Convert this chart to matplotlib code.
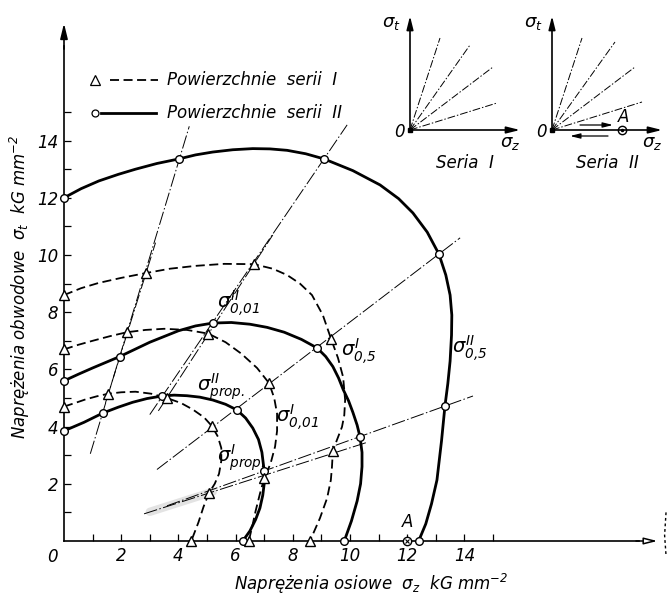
import numpy as np
import matplotlib.pyplot as plt

plt.rcParams['font.family'] = ['Liberation Sans Narrow', 'DejaVu Sans']
plt.rcParams['font.style'] = 'italic'
plt.rcParams['mathtext.fontset'] = 'dejavusans'

# --- yield surfaces, sigma_z / sigma_t in kG/mm^2 ---
# series II (solid)
prop2_z = [0, 0.35, 0.7, 1.35, 1.9, 2.4, 2.9, 3.43, 3.85, 4.3, 4.75, 5.2, 5.65, 6.05,
           6.35, 6.6, 6.8, 6.92, 7.0, 7.0, 6.95, 6.85, 6.7, 6.5, 6.25]
prop2_t = [3.85, 4.0, 4.15, 4.47, 4.68, 4.85, 4.98, 5.07, 5.1, 5.08, 5.03, 4.93, 4.78, 4.58,
           4.3, 3.95, 3.55, 3.1, 2.45, 2.0, 1.6, 1.15, 0.75, 0.35, 0]
p001_2_z = [0, 0.5, 1.0, 1.95, 3.0, 4.0, 4.6, 5.2, 5.85, 6.5, 7.1, 7.7, 8.3, 8.85, 9.15,
            9.4, 9.6, 9.76, 9.95, 10.1, 10.25, 10.35, 10.42, 10.42, 10.37, 10.25, 10.05, 9.8]
p001_2_t = [5.6, 5.83, 6.05, 6.45, 6.95, 7.35, 7.52, 7.62, 7.64, 7.58, 7.47, 7.3, 7.05, 6.75, 6.45,
            6.1, 5.7, 5.3, 4.9, 4.5, 4.05, 3.64, 3.1, 2.6, 2.0, 1.4, 0.7, 0]
p05_2_z = [0, 0.6, 1.22, 1.9, 2.5, 3.25, 4.02, 4.6, 5.2, 5.9, 6.6, 7.2, 7.8, 8.45, 9.09,
           10.1, 11.05, 11.7, 12.2, 12.7, 13.11, 13.35, 13.5, 13.56, 13.55, 13.5, 13.42,
           13.32, 13.2, 13.04, 12.85, 12.65, 12.4]
p05_2_t = [12.0, 12.32, 12.59, 12.82, 13.0, 13.2, 13.36, 13.5, 13.6, 13.68, 13.72, 13.71, 13.66,
           13.54, 13.36, 12.95, 12.45, 11.97, 11.47, 10.8, 10.03, 9.3, 8.6, 7.9, 7.2, 6.29, 5.5,
           4.72, 3.5, 2.13, 1.3, 0.6, 0]
# series I (dashed)
prop1_z = [0, 0.4, 0.75, 1.15, 1.55, 2.0, 2.5, 3.05, 3.6, 4.1, 4.5, 4.9, 5.17, 5.38, 5.5,
           5.5, 5.42, 5.27, 5.07, 4.88, 4.7, 4.45]
prop1_t = [4.7, 4.83, 4.95, 5.06, 5.15, 5.2, 5.22, 5.15, 5.0, 4.82, 4.6, 4.32, 4.02, 3.65, 3.25,
           2.8, 2.35, 2.0, 1.68, 1.2, 0.65, 0]
p001_1_z = [0, 0.5, 1.0, 1.6, 2.2, 2.85, 3.5, 4.3, 5.05, 5.65, 6.2, 6.75, 7.17, 7.35, 7.45,
            7.45, 7.38, 7.22, 7.0, 6.85, 6.7, 6.58, 6.46]
p001_1_t = [6.7, 6.86, 7.0, 7.16, 7.3, 7.38, 7.42, 7.38, 7.25, 6.95, 6.55, 6.05, 5.52, 5.0, 4.45,
            3.85, 3.3, 2.7, 2.2, 1.65, 1.05, 0.5, 0]
p05_1_z = [0, 0.6, 1.2, 2.0, 2.87, 3.7, 4.6, 5.6, 6.64, 7.3, 7.8, 8.25, 8.67, 9.05, 9.34,
           9.58, 9.76, 9.83, 9.8, 9.72, 9.55, 9.4, 9.37, 9.33, 9.2, 8.95, 8.6]
p05_1_t = [8.6, 8.84, 9.02, 9.2, 9.37, 9.52, 9.62, 9.69, 9.68, 9.52, 9.3, 9.0, 8.6, 7.9, 7.06,
           6.4, 5.73, 4.93, 4.4, 3.99, 3.55, 3.15, 2.6, 2.13, 1.5, 0.8, 0]

# measured points
pts2_z = [0, 0, 0, 1.35, 1.95, 4.02, 3.43, 5.2, 9.09, 6.05, 8.85, 13.11, 7.0, 10.35, 13.32, 6.25, 9.8, 12.4]
pts2_t = [3.85, 5.6, 12.0, 4.47, 6.45, 13.36, 5.07, 7.62, 13.36, 4.58, 6.75, 10.03, 2.45, 3.64, 4.72, 0, 0, 0]
pts1_z = [0, 0, 0, 1.55, 2.2, 2.87, 3.6, 5.05, 6.64, 5.17, 7.17, 9.34, 5.07, 7.0, 9.4, 4.45, 6.46, 8.6]
pts1_t = [4.7, 6.7, 8.6, 5.15, 7.3, 9.37, 5.0, 7.25, 9.68, 4.02, 5.52, 7.06, 1.68, 2.2, 3.15, 0, 0, 0]

# loading paths (start z, start t, end z, end t)
paths2 = [(0.92, 3.05, 4.38, 14.5), (3.0, 4.42, 9.9, 14.55),
          (3.25, 2.5, 13.85, 10.6), (3.6, 1.23, 14.3, 5.07)]
paths1 = [(1.45, 4.83, 3.2, 10.43), (3.3, 4.55, 7.3, 10.7),
          (2.8, 0.95, 10.6, 3.45)]

point_A = (12.0, 0)

curve_labels = [(r'$\sigma^{II}_{prop.}$', 5.5, 5.4), (r'$\sigma^{I}_{prop.}$', 6.2, 2.9),
                (r'$\sigma^{I}_{0{,}01}$', 8.15, 4.3), (r'$\sigma^{I}_{0{,}5}$', 10.3, 6.6),
                (r'$\sigma^{II}_{0{,}01}$', 6.1, 8.3), (r'$\sigma^{II}_{0{,}5}$', 14.2, 6.7)]

# inset load directions (unit axes)
ser1_ends = [(0.30, 0.92), (0.60, 0.85), (0.83, 0.63), (0.87, 0.27)]
ser2_ends = [(0.30, 0.92), (0.63, 0.88), (0.83, 0.63), (0.90, 0.28)]

W, H = 671, 601
X0, Y0, S = 64, 541, 28.6   # origin pixel and px per kG/mm^2

fig = plt.figure(figsize=(W / 100, H / 100), dpi=100)
ax = fig.add_axes([0, 0, 1, 1])
ax.set_xlim(-X0 / S, (W - X0) / S)
ax.set_ylim(-(H - Y0) / S, Y0 / S)

for s in ['top', 'right']:
    ax.spines[s].set_visible(False)
ax.spines['left'].set_position(('data', 0))
ax.spines['bottom'].set_position(('data', 0))
ax.spines['left'].set_bounds(0, 17.3)
ax.spines['bottom'].set_bounds(0, 20.1)
for s in ['left', 'bottom']:
    ax.spines[s].set_linewidth(1.2)
ax.annotate('', xy=(0, 18.1), xytext=(0, 17.2),
            arrowprops=dict(arrowstyle='-|>,head_length=0.9,head_width=0.22',
                            lw=1.2, color='k', shrinkA=0, shrinkB=0))
ax.annotate('', xy=(20.75, 0), xytext=(20.0, 0),
            arrowprops=dict(arrowstyle='-|>,head_length=0.8,head_width=0.2',
                            lw=1.1, fc='white', ec='k', shrinkA=0, shrinkB=0))

ax.set_xticks(np.arange(2, 15, 2))
ax.set_xticks(np.arange(1, 16), minor=True)
ax.set_yticks(np.arange(2, 15, 2))
ax.set_yticks(np.arange(1, 16), minor=True)
ax.tick_params(which='both', direction='in', length=5, width=0.9, labelsize=12, pad=4)
ax.text(-0.4, -0.55, '0', fontsize=12, ha='center', va='center')

# loading paths
dd = (0, (14, 2.5, 1.5, 2.5))
for z0, t0, z1, t1 in paths2 + paths1:
    ax.plot([z0, z1], [t0, t1], color='k', lw=0.7, ls=dd)
# smudge along the lowest path
ax.plot([3.0, 5.2], [1.02, 1.72], color='#dcdcdc', lw=6, alpha=0.8, zorder=0,
        solid_capstyle='round')

for z, t in [(prop2_z, prop2_t), (p001_2_z, p001_2_t), (p05_2_z, p05_2_t)]:
    ax.plot(z, t, color='k', lw=2.0, solid_joinstyle='round', zorder=3)
for z, t in [(prop1_z, prop1_t), (p001_1_z, p001_1_t), (p05_1_z, p05_1_t)]:
    ax.plot(z, t, color='k', lw=1.3, ls=(0, (5, 2.5)), zorder=3)

ax.plot(pts2_z, pts2_t, 'o', ms=5.5, mfc='white', mec='k', mew=1.0, ls='none',
        zorder=5, clip_on=False)
ax.plot(pts1_z, pts1_t, '^', ms=7.5, mfc='white', mec='k', mew=1.0, ls='none',
        zorder=5, clip_on=False)
ax.plot(*point_A, 'o', ms=6, mfc='white', mec='k', mew=1.0, zorder=5)
ax.plot(*point_A, 'x', ms=3.5, color='k', mew=0.8, zorder=6)
ax.text(point_A[0], point_A[1] + 0.65, 'A', fontsize=12, ha='center', va='center')

for txt, z, t in curve_labels:
    ax.text(z, t, txt, fontsize=14, ha='center', va='center')

ax.text(10.75, -1.5, r'Naprężenia osiowe  $\sigma_z$  kG mm$^{-2}$', fontsize=12,
        ha='center', va='center')
ax.text(-1.55, 8.9, r'Naprężenia obwodowe  $\sigma_t$  kG mm$^{-2}$', fontsize=12,
        ha='center', va='center', rotation=90)

# legend
leg_t = [16.12, 14.97]
ax.plot(1.08, leg_t[0], '^', ms=7, mfc='white', mec='k', mew=0.9)
ax.plot([1.6, 3.3], [leg_t[0]] * 2, color='k', lw=1.3, ls=(0, (5, 2.5)))
ax.plot(1.08, leg_t[1], 'o', ms=5, mfc='white', mec='k', mew=0.9)
ax.plot([1.3, 3.2], [leg_t[1]] * 2, color='k', lw=2.0)
ax.text(3.6, leg_t[0], 'Powierzchnie  serii  I', fontsize=12, va='center')
ax.text(3.6, leg_t[1], 'Powierzchnie  serii  II', fontsize=12, va='center')

# far-right edge mark
ax.plot([21.05, 21.0, 21.05], [1.0, 0.2, -0.5], color='k', lw=1.0, ls=(0, (2, 2)))


def load_inset(ox, ends, title, arrows):
    left, right = ox - 20, min(ox + 125, W)
    iax = fig.add_axes([left / W, (H - 180) / H, (right - left) / W, 170 / H])
    iax.set_xlim(-0.2, (right - ox) / 100)
    iax.set_ylim(-0.5, 1.2)
    iax.axis('off')
    iax.annotate('', xy=(0, 1.14), xytext=(0, 0),
                 arrowprops=dict(arrowstyle='-|>,head_length=0.8,head_width=0.2',
                                 lw=1.2, color='k', shrinkA=0, shrinkB=0))
    iax.annotate('', xy=(1.1, 0), xytext=(0, 0),
                 arrowprops=dict(arrowstyle='-|>,head_length=0.8,head_width=0.2',
                                 lw=1.2, color='k', shrinkA=0, shrinkB=0))
    for ex, ey in ends:
        iax.plot([0, ex], [0, ey], color='k', lw=0.7, ls=(0, (8, 2, 1.5, 2)))
    iax.plot(0, 0, 's', ms=3, color='k')
    iax.text(-0.19, 1.07, r'$\sigma_t$', fontsize=13, ha='center', va='center')
    iax.text(-0.11, -0.02, '0', fontsize=12, ha='center', va='center')
    iax.text(1.0, -0.13, r'$\sigma_z$', fontsize=13, ha='center', va='center')
    iax.text(0.55, -0.33, title, fontsize=12, ha='center', va='center')
    if arrows:
        iax.annotate('', xy=(0.61, 0.05), xytext=(0.28, 0.05),
                     arrowprops=dict(arrowstyle='-|>,head_length=0.6,head_width=0.15',
                                     lw=0.9, color='k', shrinkA=0, shrinkB=0))
        iax.annotate('', xy=(0.18, -0.06), xytext=(0.56, -0.06),
                     arrowprops=dict(arrowstyle='-|>,head_length=0.6,head_width=0.15',
                                     lw=0.9, color='k', shrinkA=0, shrinkB=0))
        iax.plot(0.70, 0, 'o', ms=6, mfc='white', mec='k', mew=1.0)
        iax.plot(0.70, 0, '.', ms=3, color='k')
        iax.text(0.72, 0.13, 'A', fontsize=12, ha='center', va='center')


load_inset(410, ser1_ends, 'Seria  I', False)
load_inset(552, ser2_ends, 'Seria  II', True)

fig.savefig('out.png', dpi=100)
